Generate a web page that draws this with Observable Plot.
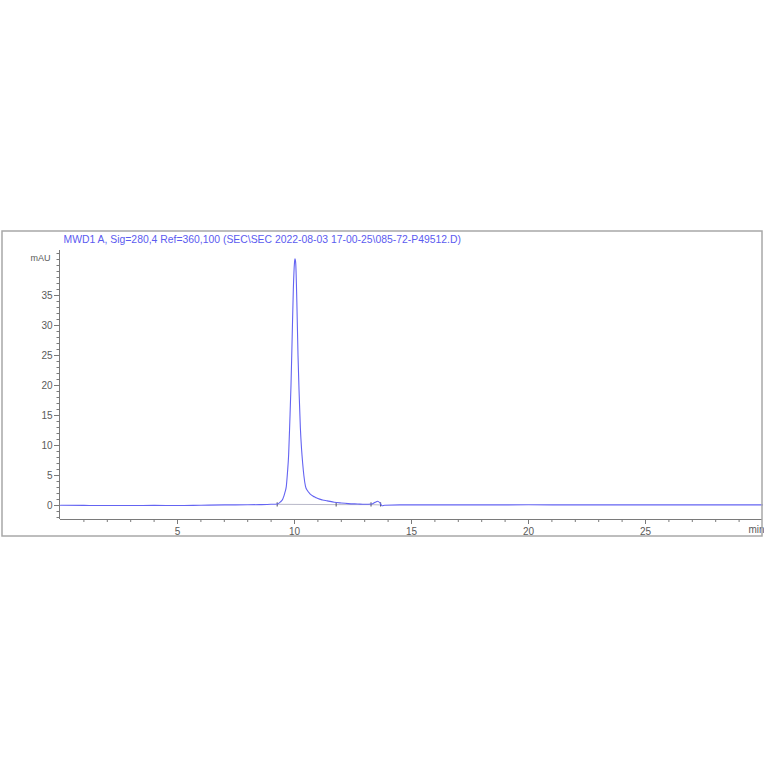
<!DOCTYPE html>
<html>
<head>
<meta charset="utf-8">
<script src="https://cdn.jsdelivr.net/npm/d3@7"></script>
<script src="https://cdn.jsdelivr.net/npm/@observablehq/plot@0.6"></script>
<style>
  html, body { margin: 0; padding: 0; background: #fff; }
  #chart { width: 764px; height: 764px; position: relative; }
</style>
</head>
<body>
<div id="chart"></div>
<script>
const title = "MWD1 A, Sig=280,4 Ref=360,100 (SEC\\SEC 2022-08-03 17-00-25\\085-72-P49512.D)";
const yUnit = "mAU";
const xUnit = "min";

// retention time (min) and absorbance (mAU)
const times = [0, 1, 2, 3, 4, 5, 6, 7, 8, 8.5, 9.0, 9.26, 9.4, 9.5, 9.55, 9.6, 9.65, 9.7, 9.75, 9.8, 9.85, 9.9, 9.95, 10.0, 10.02, 10.05, 10.1, 10.15, 10.2, 10.25, 10.3, 10.35, 10.4, 10.47, 10.55, 10.65, 10.8, 10.9, 11.0, 11.2, 11.4, 11.7, 12.0, 12.3, 12.7, 13.0, 13.3, 13.45, 13.55, 13.65, 13.75, 13.85, 14.5, 16, 18, 20, 22, 24, 26, 28, 30];
const signal = [0.05, 0.02, 0.0, 0.0, 0.02, 0.0, 0.05, 0.1, 0.12, 0.15, 0.2, 0.25, 0.6, 1.1, 1.6, 2.3, 3.2, 5.5, 8.5, 14, 20, 28, 36, 40.5, 41.1, 40.5, 34, 25, 18.5, 13, 9.5, 7, 5, 3.2, 2.5, 2.0, 1.55, 1.35, 1.15, 0.92, 0.78, 0.55, 0.42, 0.32, 0.25, 0.2, 0.25, 0.55, 0.7, 0.45, -0.05, 0.05, 0.1, 0.1, 0.1, 0.12, 0.1, 0.1, 0.1, 0.1, 0.1];

// integration baseline and event markers
const baseTimes = [9.26, 11.78, 13.27, 13.68];
const baseValues = [0.2, 0.15, 0.15, 0.1];

const yMajor = [0, 5, 10, 15, 20, 25, 30, 35];
const xMajor = [5, 10, 15, 20, 25];

const trace = times.map((t, i) => ({t, v: signal[i]}));
const base = baseTimes.map((t, i) => ({t, v: baseValues[i]}));
const yMinor = d3.range(-2, 43);
const xMinor = d3.range(1, 30);

const axisColor = "#7a7a7a";
const labelColor = "#5a5a5a";
const traceColor = "#6464f2";

const plot = Plot.plot({
  width: 764,
  height: 764,
  marginLeft: 60,
  marginRight: 2,
  marginTop: 250,
  marginBottom: 245,
  style: {fontFamily: "'Liberation Sans', Arial, sans-serif", fontSize: "10px", background: "white"},
  x: {domain: [0, 30], axis: null, label: null},
  y: {domain: [-2.33, 42.5], axis: null, label: null},
  marks: [
    // axes lines
    Plot.ruleX([0], {stroke: axisColor, strokeWidth: 1, dx: -1}),
    Plot.ruleY([-2.33], {stroke: axisColor, strokeWidth: 1}),
    // y ticks
    Plot.axisY(yMinor, {tickSize: 2.5, text: null, stroke: axisColor, dx: -1, label: null}),
    Plot.axisY(yMajor, {tickSize: 5, tickPadding: 2, stroke: axisColor, fill: labelColor, dx: -1, fontSize: 10, label: null}),
    // x ticks
    Plot.axisX(xMinor, {tickSize: 3, text: null, stroke: axisColor, label: null}),
    Plot.axisX(xMajor, {tickSize: 5, tickPadding: 3, stroke: axisColor, fill: labelColor, fontSize: 10, label: null}),
    // integration baseline
    Plot.line(base, {x: "t", y: "v", stroke: "#b8b8c8", strokeWidth: 1}),
    Plot.ruleX(baseTimes, {y1: -0.25, y2: 0.45, stroke: "#505060", strokeWidth: 1}),
    // signal trace
    Plot.line(trace, {x: "t", y: "v", stroke: traceColor, strokeWidth: 1.1, curve: "monotone-x"}),
    // texts
    Plot.text([title], {frameAnchor: "top-left", dx: 3, dy: -15, textAnchor: "start", fill: "#5b5bf0", fontSize: 10.4}),
    Plot.text([yUnit], {frameAnchor: "top-left", dx: -10, dy: 4, textAnchor: "end", fill: labelColor, fontSize: 9}),
    Plot.text([xUnit], {frameAnchor: "bottom-right", dx: -14, dy: 13, textAnchor: "start", fill: labelColor, fontSize: 10})
  ]
});

d3.select(plot).append("rect")
  .attr("x", 2).attr("y", 231).attr("width", 760).attr("height", 305)
  .attr("fill", "none").attr("stroke", "#a8a8a8").attr("stroke-width", 1.5);

document.getElementById("chart").appendChild(plot);
</script>
</body>
</html>
